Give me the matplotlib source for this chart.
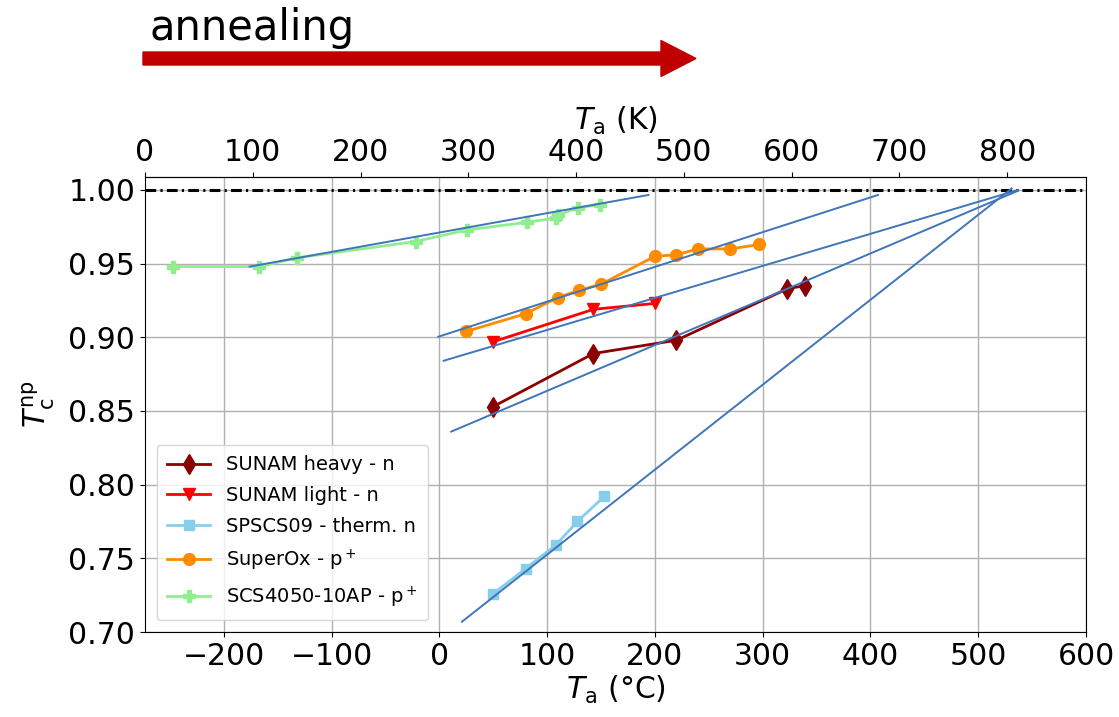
import matplotlib
matplotlib.use("Agg")
import matplotlib.pyplot as plt
from matplotlib.patches import FancyArrow

# ---- data (°C, Tc normalized) ----
heavy_x = [50, 143, 220, 323, 339]
heavy_y = [0.853, 0.889, 0.898, 0.933, 0.935]

light_x = [50, 143, 200]
light_y = [0.897, 0.919, 0.923]

sps_x = [50, 80, 108, 128, 153]
sps_y = [0.726, 0.743, 0.759, 0.775, 0.792]

sox_x = [25, 80, 110, 130, 150, 200, 220, 240, 270, 297]
sox_y = [0.904, 0.916, 0.927, 0.932, 0.936, 0.955, 0.956, 0.960, 0.960, 0.963]

scs_x = [-247, -167, -132, -22, 26, 81, 108, 110, 129, 149]
scs_y = [0.948, 0.948, 0.954, 0.965, 0.973, 0.978, 0.981, 0.983, 0.988, 0.990]

# linear fit guide lines (x endpoints, y endpoints)
fit_scs_x, fit_scs_y = [-176, 194], [0.948, 0.9966]
fit_sox_x, fit_sox_y = [-1, 407], [0.9004, 0.9966]
fit_light_x, fit_light_y = [4, 537], [0.8841, 1.000]
fit_heavy_x, fit_heavy_y = [11, 537], [0.836, 0.9995]
fit_sps_x, fit_sps_y = [21, 531], [0.707, 1.001]

x_ticks_c = [-200, -100, 0, 100, 200, 300, 400, 500, 600]
x_ticks_k = [0, 100, 200, 300, 400, 500, 600, 700, 800]
y_ticks = [0.70, 0.75, 0.80, 0.85, 0.90, 0.95, 1.00]

FS = 21.5
fig = plt.figure(figsize=(11.19, 7.17), dpi=100)
ax = fig.add_axes([145/1119, 1-632/717, (1086-145)/1119, (632-177)/717])

ax.grid(True, color="#b0b0b0", lw=1.0)
ax.set_axisbelow(True)

ax.axhline(1.0, color="black", lw=2.2, ls=(0, (3.5, 1.4, 0.7, 1.4)), zorder=2)

ax.plot(heavy_x, heavy_y, color="darkred", marker="d", ms=10.5, lw=2, label="SUNAM heavy - n", zorder=3)
ax.plot(light_x, light_y, color="red", marker="v", ms=8.5, lw=2, label="SUNAM light - n", zorder=3)
ax.plot(sps_x, sps_y, color="skyblue", marker="s", ms=7.5, lw=2, label="SPSCS09 - therm. n", zorder=3)
ax.plot(sox_x, sox_y, color="darkorange", marker="o", ms=8.5, lw=2, label="SuperOx - p$^+$", zorder=3)
ax.plot(scs_x, scs_y, color="lightgreen", marker="P", ms=8, lw=2, label="SCS4050-10AP - p$^+$", zorder=3)

blue = "#3f75bb"
for fx, fy in [(fit_scs_x, fit_scs_y), (fit_sox_x, fit_sox_y), (fit_light_x, fit_light_y),
               (fit_heavy_x, fit_heavy_y), (fit_sps_x, fit_sps_y)]:
    ax.plot(fx, fy, color=blue, lw=1.4, zorder=4)

ax.set_xlim(-273.15, 600)
ax.set_ylim(0.70, 1.0088)
ax.set_xticks(x_ticks_c)
ax.set_yticks(y_ticks)
ax.set_yticklabels([f"{v:.2f}" for v in y_ticks])
ax.tick_params(labelsize=FS)
ax.set_xlabel(r"$T_\mathrm{a}$ (°C)", fontsize=FS, labelpad=2)
ax.set_ylabel(r"$T_\mathrm{c}^\mathrm{np}$", fontsize=FS, labelpad=8)

sec = ax.secondary_xaxis("top", functions=(lambda c: c + 273.15, lambda k: k - 273.15))
sec.set_xticks(x_ticks_k)
sec.tick_params(labelsize=FS)
sec.set_xlabel(r"$T_\mathrm{a}$ (K)", fontsize=FS, labelpad=6)

leg = ax.legend(loc="lower left", fontsize=14, bbox_to_anchor=(0.002, 0.004),
                handlelength=2.2, borderpad=0.55, labelspacing=0.6)

# annealing arrow
arrow = FancyArrow(1.43, 6.585, 5.53, 0, width=0.13, head_width=0.36, head_length=0.35,
                   length_includes_head=True, color="#c00000", transform=fig.dpi_scale_trans)
fig.patches.append(arrow)
fig.text(150/1119, 1-40/717, "annealing", fontsize=30, ha="left", va="baseline")

fig.savefig("out.png", dpi=100)
